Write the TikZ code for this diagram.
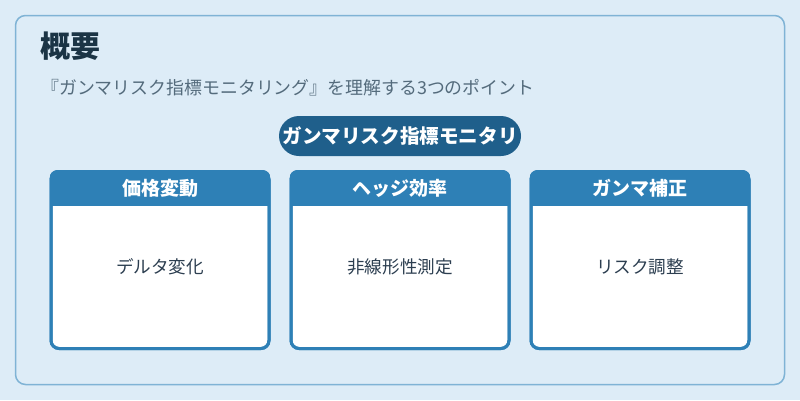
\documentclass[tikz,border=0pt]{standalone}
\usepackage{fontspec}
\setmainfont{Noto Sans CJK JP}
\usepackage{tikz}
\usetikzlibrary{positioning}
\definecolor{pagebg}{HTML}{DDECF7}
\definecolor{frameline}{HTML}{7FB3D5}
\definecolor{pilldark}{HTML}{1F5F8B}
\definecolor{cardblue}{HTML}{2E80B6}
\definecolor{titleink}{HTML}{1B3445}
\definecolor{subink}{HTML}{546B7C}
\definecolor{bodyink}{HTML}{2C3E50}
\newcommand{\fs}[1]{\fontsize{#1}{#1}\selectfont}

\begin{document}
\begin{tikzpicture}[x=1pt,y=-1pt,
    every node/.style={inner sep=0pt},
    frame/.style={draw=frameline,line width=1.5pt,fill=pagebg,rounded corners=10pt},
    pill/.style={fill=pilldark,rounded corners=20pt,minimum width=242pt,minimum height=40pt,
      text=white,font=\fs{19.6}\bfseries},
    card/.style={draw=cardblue,line width=3pt,rounded corners=8pt,
      minimum width=218pt,minimum height=177pt},
    headtext/.style={text=white,font=\fs{19}\bfseries},
    bodytext/.style={text=bodyink,font=\fs{17.6}}]
  \fill[pagebg] (0,0) rectangle (800,400);
  \useasboundingbox (0,0) rectangle (800,400);
  \draw[frame] (15.5,15.5) rectangle (784.5,384.5);
  \node[anchor=west,text=titleink,font=\fs{30}\bfseries] (title) at (40,46) {概要};
  \node[anchor=west,text=subink,font=\fs{17.9}] (sub) at (41,88)
    {『ガンマリスク指標モニタリング』を理解する3つのポイント};
  \node[pill] (focus) at (400,136) {ガンマリスク指標モニタリ};
  \foreach \cx/\head/\body [count=\i] in {160/価格変動/デルタ変化,
      400/ヘッジ効率/非線形性測定, 640/ガンマ補正/リスク調整} {
    \node[card,fill=white] (card\i) at (\cx,260) {};
    \begin{scope}
      \clip[rounded corners=8pt] (card\i.north west) rectangle (card\i.south east);
      \fill[cardblue] (card\i.north west) rectangle ([yshift=-36pt]card\i.north east);
    \end{scope}
    \node[card] at (card\i) {};
    \node[headtext] (head\i) at (\cx,188) {\head};
    \node[bodytext] (body\i) at (\cx,267) {\body};
  }
\end{tikzpicture}
\end{document}
